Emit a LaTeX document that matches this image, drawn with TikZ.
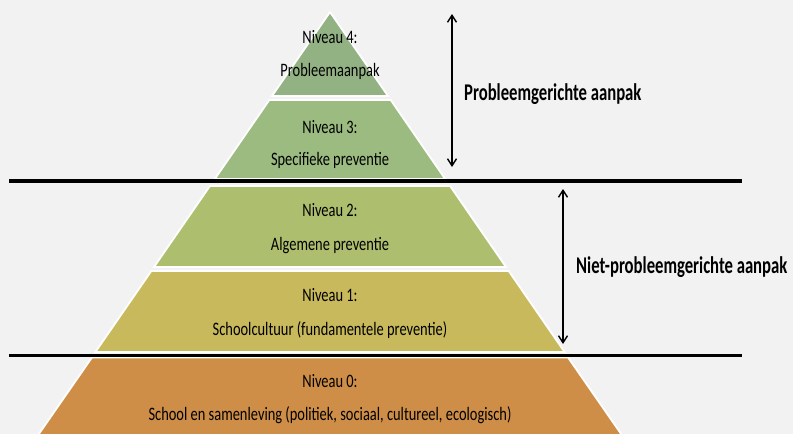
\documentclass[tikz,border=0pt]{standalone}
\usepackage{fontspec}
\setmainfont{Carlito}
\newfontfamily\bodyf{Carlito}[FakeStretch=0.76]
\newfontfamily\labf{Carlito}[FakeStretch=0.695]
\usetikzlibrary{arrows.meta}
\definecolor{bg}{HTML}{F2F2F2}
\definecolor{lvfour}{HTML}{93B283}
\definecolor{lvthree}{HTML}{9BBB80}
\definecolor{lvtwo}{HTML}{ADBF6F}
\definecolor{lvone}{HTML}{C8B95C}
\definecolor{lvzero}{HTML}{CF8E48}
\tikzset{
  band/.style={draw=white, line width=1.8pt, line join=miter},
  sepline/.style={line width=3.6pt, black},
  span/.style={line width=1.4pt, black, {Straight Barb[length=7pt,width=9pt,line width=1.4pt]}-{Straight Barb[length=7pt,width=9pt,line width=1.4pt]}},
  lvtext/.style={font=\bodyf\fontsize{19}{21}\selectfont, anchor=base, inner sep=0pt},
  sidetext/.style={font=\labf\bfseries\fontsize{24}{26}\selectfont, anchor=base west, inner sep=0pt}
}
\begin{document}
\begin{tikzpicture}[x=1pt,y=-1pt]
\fill[bg] (0,0) rectangle (793,434);
\useasboundingbox (0,0) rectangle (793,434);
\begin{scope}
\clip (0,0) rectangle (793,434);
% bands
\filldraw[band, fill=lvfour] (330,12) -- (388,96) -- (272,96) -- cycle;
\filldraw[band, fill=lvthree] (269.3,100) -- (390.7,100) -- (445.2,179) -- (214.8,179) -- cycle;
\filldraw[band, fill=lvtwo] (209.9,186) -- (450.1,186) -- (506,267) -- (154,267) -- cycle;
\filldraw[band, fill=lvone] (151.3,271) -- (508.7,271) -- (564.6,352) -- (95.4,352) -- cycle;
\filldraw[band, fill=lvzero] (91.9,357.5) -- (568.1,357.5) -- (625.3,440) -- (34.7,440) -- cycle;
\end{scope}
% separator lines
\coordinate (s1a) at (9,181);
\coordinate (s1b) at (742,181);
\coordinate (s2a) at (9,355.5);
\coordinate (s2b) at (742,355.5);
\draw[sepline] (s1a) -- (s1b);
\draw[sepline] (s2a) -- (s2b);
% arrows
\coordinate (a1t) at (452,14);
\coordinate (a1b) at (452,167);
\coordinate (a2t) at (563,189);
\coordinate (a2b) at (563,344);
\draw[span] (a1t) -- (a1b);
\draw[span] (a2t) -- (a2b);
% texts
\node[lvtext] (n4a) at (330,43) {Niveau 4:};
\node[lvtext] (n4b) at (330,76) {Probleemaanpak};
\node[lvtext] (n3a) at (330,133) {Niveau 3:};
\node[lvtext] (n3b) at (330,165) {Specifieke preventie};
\node[lvtext] (n2a) at (330,216) {Niveau 2:};
\node[lvtext] (n2b) at (330,250) {Algemene preventie};
\node[lvtext] (n1a) at (330,301) {Niveau 1:};
\node[lvtext] (n1b) at (330,335) {Schoolcultuur (fundamentele preventie)};
\node[lvtext] (n0a) at (330,387) {Niveau 0:};
\node[lvtext] (n0b) at (330,420) {School en samenleving (politiek, sociaal, cultureel, ecologisch)};
\node[sidetext] (pg) at (464,100) {Probleemgerichte aanpak};
\node[sidetext] (npg) at (576,273) {Niet-probleemgerichte aanpak};
\end{tikzpicture}
\end{document}
